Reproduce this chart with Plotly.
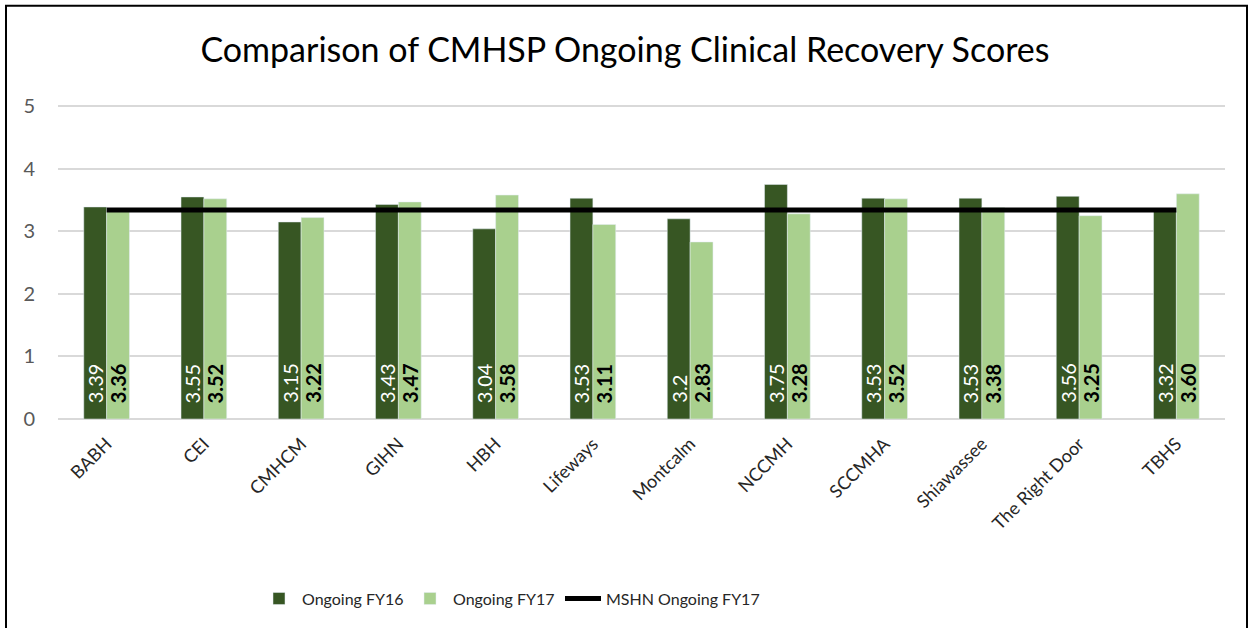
import plotly.graph_objects as go

# données
agences = ['BABH', 'CEI', 'CMHCM', 'GIHN', 'HBH', 'Lifeways', 'Montcalm',
           'NCCMH', 'SCCMHA', 'Shiawassee', 'The Right Door', 'TBHS']
fy16 = [3.39, 3.55, 3.15, 3.43, 3.04, 3.53, 3.2, 3.75, 3.53, 3.53, 3.56, 3.32]
fy17 = [3.36, 3.52, 3.22, 3.47, 3.58, 3.11, 2.83, 3.28, 3.52, 3.38, 3.25, 3.60]
fy16_txt = ['3.39', '3.55', '3.15', '3.43', '3.04', '3.53', '3.2', '3.75', '3.53', '3.53', '3.56', '3.32']
fy17_txt = ['3.36', '3.52', '3.22', '3.47', '3.58', '3.11', '2.83', '3.28', '3.52', '3.38', '3.25', '3.60']
mshn = [3.34] * len(agences)

police = 'Lato'

fig = go.Figure()
fig.add_trace(go.Bar(x=agences, y=fy16, name='Ongoing FY16', marker_color='#375623',
                     showlegend=True))
fig.add_trace(go.Bar(x=agences, y=fy17, name='Ongoing FY17', marker_color='#a9d08e',
                     legend='legend2', showlegend=True))
fig.add_trace(go.Scatter(x=agences, y=mshn, name='MSHN Ongoing FY17', mode='lines',
                         line=dict(color='black', width=5), legend='legend3', showlegend=True))

# étiquettes verticales au pied des barres
for a, t in zip(agences, fy16_txt):
    fig.add_annotation(x=a, y=0, text=t, textangle=-90, showarrow=False,
                       xanchor='center', yanchor='bottom', xshift=-11.5, yshift=14,
                       font=dict(size=20, color='white', family=police))
for a, t in zip(agences, fy17_txt):
    fig.add_annotation(x=a, y=0, text='<b>' + t + '</b>', textangle=-90, showarrow=False,
                       xanchor='center', yanchor='bottom', xshift=11.5, yshift=14,
                       font=dict(size=20, color='black', family=police))

# une légende par série, placée comme dans l'original
leg_y = (419 - 598) / 313
leg = dict(orientation='h', xanchor='left', y=leg_y, yanchor='middle', visible=True,
           font=dict(size=16, color='#262626'), itemwidth=36, bgcolor='rgba(0,0,0,0)')

fig.update_layout(
    width=1250, height=628,
    paper_bgcolor='white', plot_bgcolor='white',
    font=dict(family=police, color='#404040'),
    title=dict(text='Comparison of CMHSP Ongoing Clinical Recovery Scores',
               x=0.5, xanchor='center', y=1 - 50 / 628, yanchor='middle',
               font=dict(size=34, color='black', family=police)),
    margin=dict(l=58, r=25, t=105, b=209),
    barmode='group', bargap=0.53, bargroupgap=0,
    showlegend=True,
    legend=dict(leg, x=(256 - 58) / 1167),
    legend2=dict(leg, x=(407 - 58) / 1167),
    legend3=dict(leg, x=(560 - 58) / 1167),
    shapes=[dict(type='rect', xref='paper', yref='paper',
                 x0=(6 - 58) / 1167, x1=(1247 - 58) / 1167, y0=-0.8, y1=(419 - 7) / 313,
                 line=dict(color='black', width=2))],
)
fig.update_yaxes(range=[0, 5.02], dtick=1, gridcolor='#d9d9d9', gridwidth=1.5,
                 zeroline=True, zerolinecolor='#d9d9d9', zerolinewidth=1.5,
                 tickfont=dict(size=20, color='#595959'), ticklabelstandoff=22)
fig.update_xaxes(tickangle=-45, tickfont=dict(size=18, color='#262626'),
                 showline=False, ticklabelstandoff=10)

fig.write_html("out.html", config={'displayModeBar': False},
               post_script="document.body.style.margin='0';")
